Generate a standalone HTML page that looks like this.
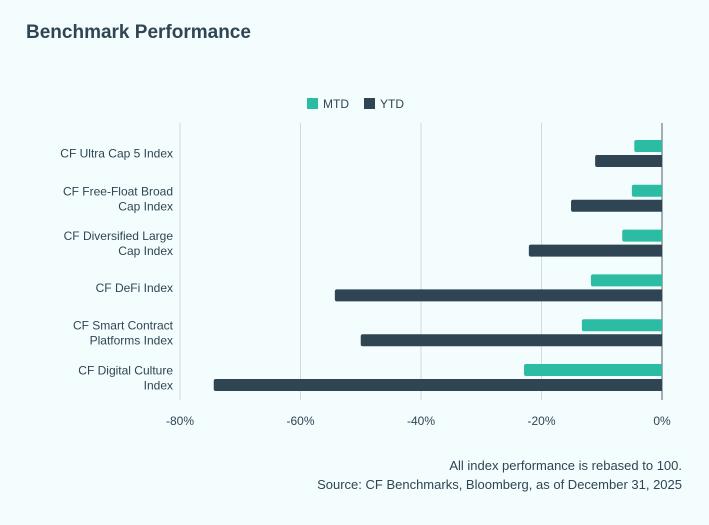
<!DOCTYPE html>
<html><head><meta charset="utf-8"><style>
body{margin:0;width:709px;height:520px;background:#f3fdfd;font-family:"Liberation Sans",sans-serif;overflow:hidden}
</style></head><body>
<svg width="709" height="520">
<text x="26" y="38" font-size="19" font-weight="bold" fill="#2f4553">Benchmark Performance</text>
<g>
<rect x="307" y="98" width="11" height="11" fill="#2bbca3"/>
<text x="323" y="108" font-size="12" fill="#2f4553">MTD</text>
<rect x="364" y="98" width="11" height="11" fill="#2f4553"/>
<text x="380" y="108" font-size="12" fill="#2f4553">YTD</text>
</g>
<g id="plot"></g>
<text x="682" y="470" font-size="13" fill="#2f4553" text-anchor="end">All index performance is rebased to 100.</text>
<text x="682" y="489" font-size="13" fill="#2f4553" text-anchor="end">Source: CF Benchmarks, Bloomberg, as of December 31, 2025</text>
</svg>
<script>
const categories=[["CF Ultra Cap 5 Index"],["CF Free-Float Broad","Cap Index"],["CF Diversified Large","Cap Index"],["CF DeFi Index"],["CF Smart Contract","Platforms Index"],["CF Digital Culture","Index"]];
const mtd=[-4.6,-5.0,-6.6,-11.8,-13.3,-22.9];
const ytd=[-11.1,-15.1,-22.1,-54.3,-50.0,-74.4];
const ticks=[-80,-60,-40,-20,0];
const tickLabels=["-80%","-60%","-40%","-20%","0%"];
const NS="http://www.w3.org/2000/svg";
const g=document.getElementById('plot');
const x=v=>662+(v/80)*482;
const yc=i=>153.5+i*44.8;
function mk(t,a){const e=document.createElementNS(NS,t);for(const k in a)e.setAttribute(k,a[k]);g.appendChild(e);return e;}
ticks.forEach((t,i)=>{
 const l=mk('line',{x1:x(t),x2:x(t),y1:123,y2:400,stroke:t===0?'#8a9499':'#d3dadb','stroke-width':t===0?1.5:1});
 
 
 const tx=mk('text',{x:x(t),y:425,'font-size':12,fill:'#2f4553','text-anchor':'middle'});
 tx.textContent=tickLabels[i];
 
 
});
function bar(v,y,c){const x0=x(v),w=662-x0;
 const p=mk('path',{d:`M662 ${y}H${x0+2}Q${x0} ${y} ${x0} ${y+2}V${y+10}Q${x0} ${y+12} ${x0+2} ${y+12}H662Z`,fill:c});return p;}
categories.forEach((c,i)=>{
 const b1=bar(mtd[i],yc(i)-13.5,'#2bbca3');
 
 
 const b2=bar(ytd[i],yc(i)+1.5,'#2f4553');
 
 
 const t=mk('text',{'font-size':12,fill:'#2f4553','text-anchor':'end'});
 
 
 const y0=c.length===1?yc(i)+4:yc(i)-3;
 c.forEach((s,j)=>{const ts=document.createElementNS(NS,'tspan');ts.setAttribute('x',173);ts.setAttribute('y',y0+j*15);ts.textContent=s;t.appendChild(ts);});
});
</script>
</body></html>
